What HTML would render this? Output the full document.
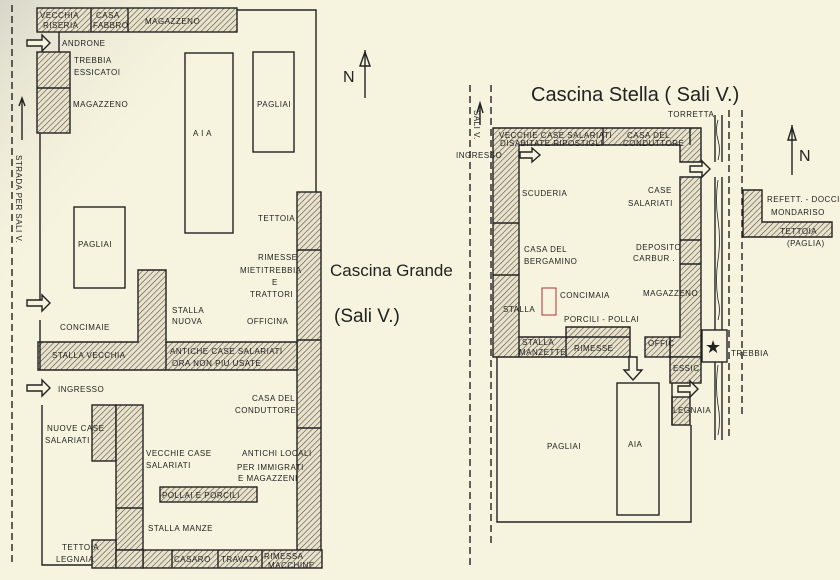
<!DOCTYPE html>
<html><head><meta charset="utf-8"><style>
html,body{margin:0;padding:0;background:#f6f4de;}
svg{display:block;}
text{font-family:"Liberation Sans",sans-serif;fill:#222;}
.s{font-size:8px;letter-spacing:0.5px;}
</style></head><body>
<svg width="840" height="580" viewBox="0 0 840 580" xmlns="http://www.w3.org/2000/svg">
<defs>
<pattern id="h" width="4" height="4" patternUnits="userSpaceOnUse" patternTransform="rotate(45)">
<rect width="4" height="4" fill="#e8e4cc"/><line x1="0" y1="0" x2="0" y2="4" stroke="#5a4a48" stroke-width="1.2"/>
</pattern>
<linearGradient id="g" x1="0" y1="0" x2="1" y2="0.6"><stop offset="0" stop-color="#d8d6c8"/><stop offset="0.25" stop-color="#f6f4de" stop-opacity="0"/></linearGradient>
</defs>
<rect width="840" height="580" fill="#f6f4de"/>
<rect width="840" height="580" fill="url(#g)"/>
<g stroke="#222" fill="none" stroke-width="1.4">
<!-- LEFT PLAN -->
<line x1="12" y1="5" x2="12" y2="565" stroke-dasharray="7,4"/>
<rect x="37" y="8" width="200" height="24" fill="url(#h)"/>
<line x1="91" y1="8" x2="91" y2="32"/><line x1="128" y1="8" x2="128" y2="32"/>
<polyline points="237,10 316,10 316,280"/>
<line x1="59" y1="32" x2="59" y2="52"/>
<rect x="37" y="52" width="33" height="81" fill="url(#h)"/><line x1="37" y1="88" x2="70" y2="88"/>
<line x1="40" y1="133" x2="40" y2="305"/>
<rect x="185" y="53" width="48" height="180"/>
<rect x="253" y="52" width="41" height="100"/>
<rect x="74" y="207" width="51" height="81"/>
<rect x="297" y="192" width="24" height="358" fill="url(#h)"/>
<line x1="297" y1="250" x2="321" y2="250"/><line x1="297" y1="340" x2="321" y2="340"/><line x1="297" y1="428" x2="321" y2="428"/>
<path d="M138 270 H166 V342 H297 V370 H38 V342 H138 Z" fill="url(#h)"/>
<line x1="166" y1="342" x2="166" y2="370"/>
<line x1="40" y1="320" x2="40" y2="370"/>
<path d="M27 300h15v-5l8 8-8 8v-5H27z" fill="#f6f4de"/>
<path d="M27 40h15v-5l8 8-8 8v-5H27z" fill="#f6f4de"/>
<path d="M27 385h15v-5l8 8-8 8v-5H27z" fill="#f6f4de"/>
<polyline points="42,405 42,565 322,565"/>
<rect x="92" y="405" width="24" height="56" fill="url(#h)"/>
<rect x="116" y="405" width="27" height="145" fill="url(#h)"/>
<line x1="116" y1="508" x2="143" y2="508"/>
<rect x="143" y="550" width="179" height="18" fill="url(#h)"/>
<line x1="172" y1="550" x2="172" y2="568"/><line x1="218" y1="550" x2="218" y2="568"/><line x1="262" y1="550" x2="262" y2="568"/>
<rect x="92" y="540" width="24" height="28" fill="url(#h)"/><rect x="116" y="550" width="27" height="18" fill="url(#h)"/>
<rect x="160" y="487" width="97" height="15" fill="url(#h)"/>
<line x1="22" y1="100" x2="22" y2="140"/><path d="M19 106 L22 98 L25 106" />
<!-- North left -->
<line x1="365" y1="50" x2="365" y2="98"/><path d="M360 66 L365 52 L370 66 Z"/>
<!-- RIGHT PLAN -->
<line x1="470" y1="85" x2="470" y2="565" stroke-dasharray="7,4"/>
<line x1="491" y1="85" x2="491" y2="545" stroke-dasharray="7,4"/>
<line x1="480" y1="125" x2="480" y2="105"/><path d="M477 113 L480 103 L483 113"/>
<path d="M493 128 H701 V162 H680 V145 H519 V337 H566 V327 H630 V357 H493 Z" fill="url(#h)"/>
<line x1="519" y1="337" x2="519" y2="357"/><line x1="566" y1="337" x2="630" y2="337"/><line x1="566" y1="337" x2="566" y2="357"/>
<line x1="493" y1="223" x2="519" y2="223"/><line x1="493" y1="275" x2="519" y2="275"/>
<line x1="603" y1="128" x2="603" y2="145"/><line x1="690" y1="128" x2="690" y2="145"/>
<path d="M680 177 H701 V357 H670 V337 H680 Z" fill="url(#h)"/>
<rect x="645" y="337" width="25" height="20" fill="url(#h)"/>
<line x1="680" y1="240" x2="701" y2="240"/><line x1="680" y1="264" x2="701" y2="264"/>
<rect x="670" y="357" width="31" height="26" fill="url(#h)"/>
<rect x="672" y="397" width="18" height="28" fill="url(#h)"/>
<polyline points="497,357 497,522 691,522 691,425"/>
<line x1="672" y1="383" x2="672" y2="425"/>
<rect x="617" y="383" width="42" height="132"/>
<path d="M629 357v13h-5l9 10 9-10h-5v-13z" fill="#f6f4de"/>
<path d="M520 152h12v-4l8 7-8 7v-4h-12z" fill="#f6f4de"/>
<path d="M690 166h12v-5l8 8-8 8v-5h-12z" fill="#f6f4de"/>
<path d="M678 386h12v-5l8 8-8 8v-5h-12z" fill="#f6f4de"/>
<rect x="702" y="330" width="25" height="32" fill="#f6f4de"/>
<line x1="715" y1="115" x2="715" y2="162"/><line x1="722" y1="115" x2="722" y2="162"/>
<line x1="715" y1="177" x2="715" y2="330"/><line x1="722" y1="177" x2="722" y2="330"/>
<line x1="715" y1="362" x2="715" y2="440"/><line x1="722" y1="362" x2="722" y2="440"/>
<path d="M718 120 q-3 10 0 20 q3 10 0 20 M718 180 q-3 20 0 40 q3 20 0 40 q-3 20 0 40 q3 10 0 20 M718 365 q-3 20 0 40 q3 15 0 30" stroke-width="0.8"/>
<line x1="729" y1="110" x2="729" y2="440" stroke-dasharray="7,4"/>
<line x1="742" y1="110" x2="742" y2="415" stroke-dasharray="7,4"/>
<path d="M743 190 H762 V222 H832 V237 H743 Z" fill="url(#h)"/>
<line x1="792" y1="125" x2="792" y2="175"/><path d="M788 140 L792 127 L796 140 Z"/>
</g>
<text x="705" y="353" font-size="18">★</text>
<!-- LEFT TEXT -->
<text class="s" x="40" y="18" font-size="7">VECCHIA</text><text class="s" x="43" y="28" font-size="7">RISERIA</text>
<text class="s" x="96" y="18">CASA</text><text class="s" x="93" y="28" font-size="6">FABBRO</text>
<text class="s" x="145" y="24">MAGAZZENO</text>
<text class="s" x="62" y="46">ANDRONE</text>
<text class="s" x="74" y="63">TREBBIA</text><text class="s" x="74" y="75" font-size="7">ESSICATOI</text>
<text class="s" x="73" y="107">MAGAZZENO</text>
<text class="s" x="193" y="136" font-size="10">A I A</text>
<text class="s" x="257" y="107">PAGLIAI</text>
<text class="s" x="78" y="247">PAGLIAI</text>
<text class="s" x="258" y="221">TETTOIA</text>
<text class="s" x="258" y="260">RIMESSE</text>
<text class="s" x="240" y="273" font-size="7">MIETITREBBIA</text>
<text class="s" x="272" y="285">E</text>
<text class="s" x="250" y="297">TRATTORI</text>
<text class="s" x="172" y="313">STALLA</text><text class="s" x="172" y="324">NUOVA</text>
<text class="s" x="247" y="324">OFFICINA</text>
<text class="s" x="60" y="330">CONCIMAIE</text>
<text class="s" x="52" y="358">STALLA  VECCHIA</text>
<text class="s" x="170" y="354">ANTICHE CASE SALARIATI</text>
<text class="s" x="172" y="366">ORA  NON PIU  USATE</text>
<text class="s" x="58" y="392" font-size="10">INGRESSO</text>
<text class="s" x="252" y="401">CASA DEL</text><text class="s" x="235" y="413">CONDUTTORE</text>
<text class="s" x="47" y="431" font-size="7">NUOVE CASE</text><text class="s" x="45" y="443" font-size="7">SALARIATI</text>
<text class="s" x="146" y="456">VECCHIE CASE</text><text class="s" x="146" y="468">SALARIATI</text>
<text class="s" x="242" y="456" font-size="7">ANTICHI LOCALI</text>
<text class="s" x="237" y="470" font-size="7">PER IMMIGRATI</text>
<text class="s" x="238" y="481" font-size="7">E MAGAZZENI</text>
<text class="s" x="162" y="498">POLLAI E PORCILI</text>
<text class="s" x="148" y="531">STALLA MANZE</text>
<text class="s" x="62" y="550" font-size="7">TETTOIA</text><text class="s" x="56" y="562" font-size="7">LEGNAIA</text>
<text class="s" x="174" y="562">CASARO</text><text class="s" x="221" y="562">TRAVATA</text>
<text class="s" x="264" y="559" font-size="7">RIMESSA</text><text class="s" x="268" y="568" font-size="7">MACCHINE</text>
<text class="s" x="0" y="0" transform="translate(16,155) rotate(90)" font-size="9">STRADA  PER  SALI  V.</text>
<text x="343" y="82" font-size="16">N</text>
<text x="330" y="276" font-size="17">Cascina Grande</text>
<text x="334" y="322" font-size="19">(Sali V.)</text>
<!-- RIGHT TEXT -->
<text x="531" y="101" font-size="20">Cascina Stella ( Sali V.)</text>
<text class="s" x="0" y="0" transform="translate(474,110) rotate(90)" font-size="7">SALI V.</text>
<text class="s" x="499" y="138" font-size="7">VECCHIE CASE SALARIATI</text>
<text class="s" x="500" y="146" font-size="7">DISABITATE  RIPOSTIGLI</text>
<text class="s" x="627" y="138" font-size="7">CASA DEL</text><text class="s" x="623" y="146" font-size="7">CONDUTTORE</text>
<text class="s" x="456" y="158" font-size="7">INGRESSO</text>
<text class="s" x="668" y="117" font-size="7">TORRETTA</text>
<text class="s" x="522" y="196">SCUDERIA</text>
<text class="s" x="648" y="193">CASE</text><text class="s" x="628" y="206">SALARIATI</text>
<text class="s" x="524" y="252">CASA DEL</text><text class="s" x="524" y="264">BERGAMINO</text>
<text class="s" x="636" y="250" font-size="7">DEPOSITO</text><text class="s" x="633" y="261" font-size="7">CARBUR .</text>
<text class="s" x="643" y="296" font-size="7">MAGAZZENO</text>
<text class="s" x="560" y="298" font-size="7">CONCIMAIA</text>
<rect x="542" y="288" width="14" height="27" fill="none" stroke="#a33" stroke-width="1"/>
<text class="s" x="503" y="312" font-size="7">STALLA</text>
<text class="s" x="564" y="322" font-size="7">PORCILI - POLLAI</text>
<text class="s" x="522" y="345" font-size="7">STALLA</text><text class="s" x="519" y="355" font-size="7">MANZETTE</text>
<text class="s" x="574" y="351">RIMESSE</text>
<text class="s" x="648" y="346" font-size="7">OFFIC</text>
<text class="s" x="673" y="371" font-size="7">ESSIC</text>
<text class="s" x="731" y="356" font-size="7">TREBBIA</text>
<text class="s" x="673" y="413" font-size="7">LEGNAIA</text>
<text class="s" x="547" y="449">PAGLIAI</text>
<text class="s" x="628" y="447" font-size="9">AIA</text>
<text class="s" x="767" y="202" font-size="7" letter-spacing="0.2">REFETT. - DOCCIE</text>
<text class="s" x="771" y="215" font-size="7">MONDARISO</text>
<text class="s" x="780" y="234" font-size="7">TETTOIA</text>
<text class="s" x="787" y="246" font-size="7">(PAGLIA)</text>
<text x="799" y="161" font-size="16">N</text>
</svg>
</body></html>
